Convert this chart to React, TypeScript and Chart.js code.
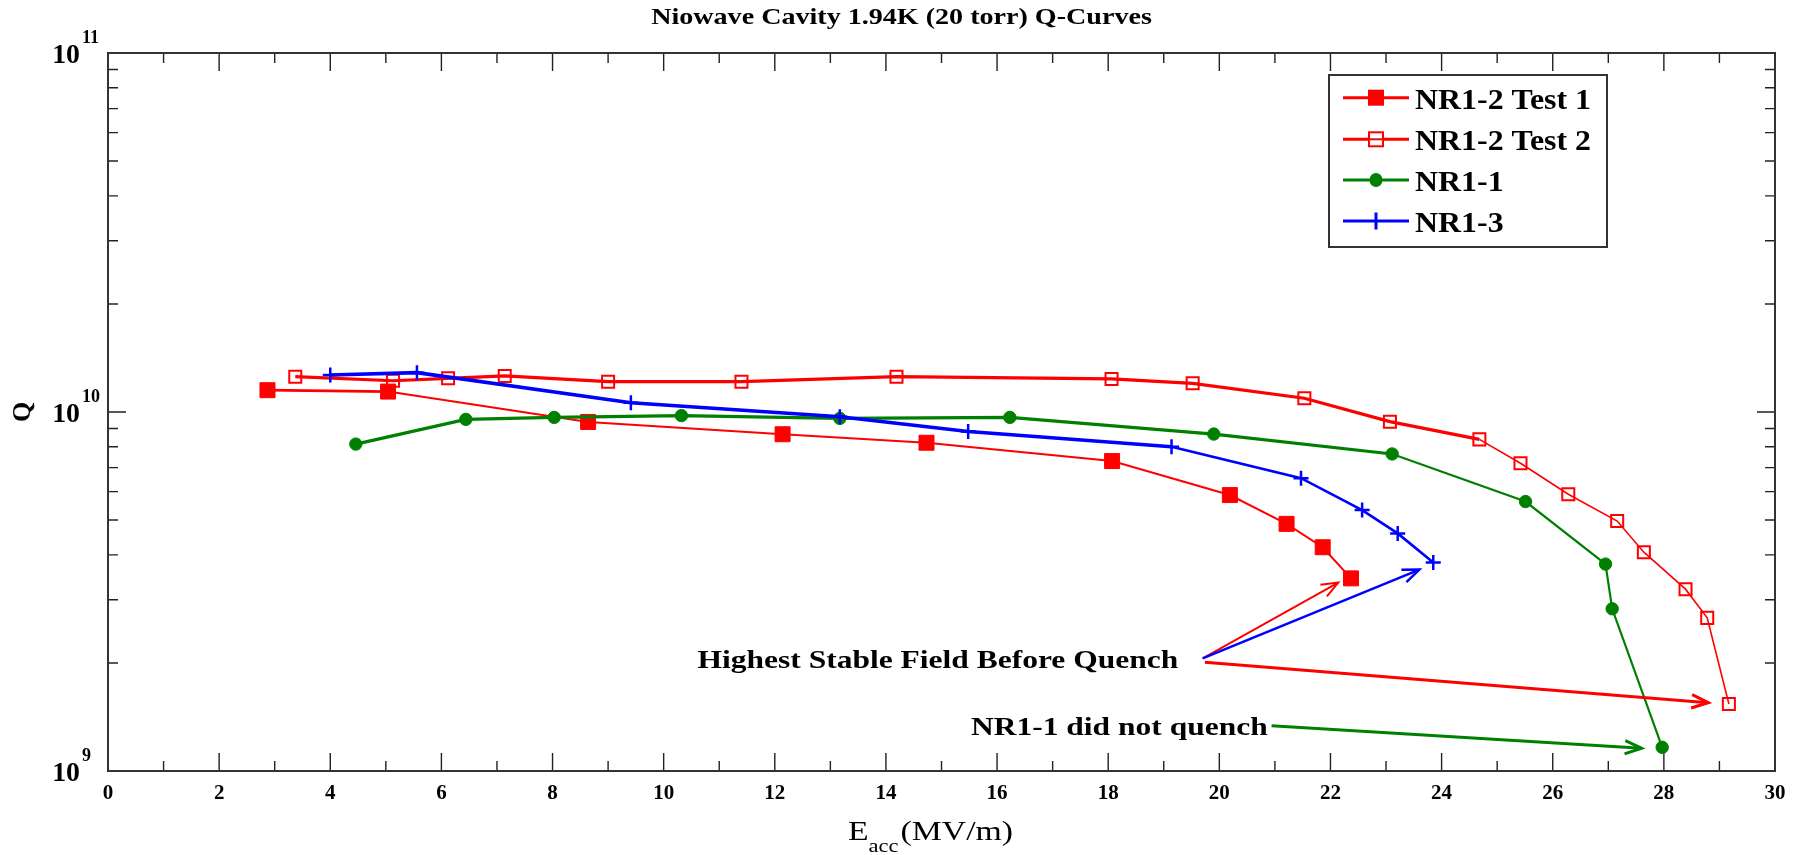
import React, { useEffect, useRef } from 'react';
import { Chart, registerables } from 'chart.js';

Chart.register(...registerables);

// ---------- data ----------
const test1E = [2.87, 5.04, 8.64, 12.14, 14.73, 18.07, 20.19, 21.21, 21.86, 22.37];
const test1Q = [1.15e10, 1.14e10, 9.38e9, 8.67e9, 8.21e9, 7.3e9, 5.87e9, 4.88e9, 4.2e9, 3.44e9];

const test2E = [3.37, 5.13, 6.12, 7.14, 9.0, 11.4, 14.19, 18.06, 19.52, 21.53, 23.07, 24.68, 25.42, 26.28, 27.16, 27.64, 28.39, 28.78, 29.17];
const test2Q = [1.254e10, 1.222e10, 1.241e10, 1.26e10, 1.215e10, 1.215e10, 1.254e10, 1.236e10, 1.202e10, 1.092e10, 9.4e9, 8.39e9, 7.2e9, 5.9e9, 4.97e9, 4.07e9, 3.21e9, 2.67e9, 1.537e9];

const nr11E = [4.46, 6.44, 8.03, 10.32, 13.17, 16.23, 19.9, 23.11, 25.51, 26.95, 27.07, 27.97];
const nr11Q = [8.14e9, 9.54e9, 9.66e9, 9.77e9, 9.6e9, 9.66e9, 8.68e9, 7.64e9, 5.63e9, 3.77e9, 2.83e9, 1.164e9];

const nr13E = [4.0, 5.56, 9.41, 13.17, 15.48, 19.14, 21.47, 22.57, 23.21, 23.85];
const nr13Q = [1.268e10, 1.287e10, 1.061e10, 9.7e9, 8.82e9, 8.0e9, 6.54e9, 5.33e9, 4.59e9, 3.81e9];

const seriesNames = ['NR1-2 Test 1', 'NR1-2 Test 2', 'NR1-1', 'NR1-3'];

const xTickValues = [0, 2, 4, 6, 8, 10, 12, 14, 16, 18, 20, 22, 24, 26, 28, 30];
const yDecades = [1e9, 1e10, 1e11];
const yDecadeExponents = ['9', '10', '11'];

// annotation arrows (data coordinates)
const arrowFromE = [19.7, 19.7, 19.74, 20.94];
const arrowFromQ = [2.06e9, 2.06e9, 2.01e9, 1.337e9];
const arrowToE = [22.14, 23.6, 28.8, 27.6];
const arrowToQ = [3.35e9, 3.64e9, 1.55e9, 1.157e9];
const arrowColors = ['#ff0000', '#0000ff', '#ff0000', '#008000'];
const arrowWidths = [2, 2.5, 3, 3];

const noteTexts = ['Highest Stable Field Before Quench', 'NR1-1 did not quench'];
const noteRightE = [19.26, 20.87];
const noteBaseQ = [1.936e9, 1.26e9];

const chartTitle = 'Niowave Cavity 1.94K (20 torr) Q-Curves';

const SERIF = '"Liberation Serif", "Times New Roman", serif';
const RED = '#ff0000';
const GREEN = '#008000';
const BLUE = '#0000ff';

function pts(xs: number[], ys: number[]) {
  return xs.map((x, i) => ({ x, y: ys[i] }));
}

function drawText(
  ctx: CanvasRenderingContext2D,
  text: string,
  x: number,
  y: number,
  font: string,
  align: 'left' | 'right' | 'center',
  sx: number,
  color = '#000'
) {
  ctx.save();
  ctx.font = font;
  ctx.fillStyle = color;
  ctx.textBaseline = 'alphabetic';
  ctx.textAlign = 'left';
  const w = ctx.measureText(text).width * sx;
  const left = align === 'left' ? x : align === 'right' ? x - w : x - w / 2;
  ctx.translate(left, y);
  ctx.scale(sx, 1);
  ctx.fillText(text, 0, 0);
  ctx.restore();
  return w;
}

function drawArrow(ctx: CanvasRenderingContext2D, x0: number, y0: number, x1: number, y1: number, color: string, w: number) {
  ctx.save();
  ctx.strokeStyle = color;
  ctx.lineWidth = w;
  ctx.lineJoin = 'miter';
  ctx.beginPath();
  ctx.moveTo(x0, y0);
  ctx.lineTo(x1, y1);
  ctx.stroke();
  const ang = Math.atan2(y1 - y0, x1 - x0);
  const L = 18;
  const h = 0.38;
  ctx.beginPath();
  ctx.moveTo(x1 - L * Math.cos(ang - h), y1 - L * Math.sin(ang - h));
  ctx.lineTo(x1, y1);
  ctx.lineTo(x1 - L * Math.cos(ang + h), y1 - L * Math.sin(ang + h));
  ctx.stroke();
  ctx.restore();
}

function drawMarker(ctx: CanvasRenderingContext2D, kind: string, x: number, y: number, color: string) {
  ctx.save();
  ctx.strokeStyle = color;
  ctx.fillStyle = color;
  if (kind === 'filledRect') {
    ctx.fillRect(x - 8, y - 8, 16, 16);
  } else if (kind === 'openRect') {
    ctx.lineWidth = 2;
    ctx.fillStyle = '#fff';
    ctx.fillRect(x - 7, y - 7, 14, 14);
    ctx.strokeRect(x - 7, y - 7, 14, 14);
    ctx.beginPath();
    ctx.moveTo(x - 7, y);
    ctx.lineTo(x + 7, y);
    ctx.stroke();
  } else if (kind === 'circle') {
    ctx.beginPath();
    ctx.ellipse(x, y, 6.5, 7, 0, 0, Math.PI * 2);
    ctx.fill();
  } else if (kind === 'cross') {
    ctx.lineWidth = 3;
    ctx.beginPath();
    ctx.moveTo(x, y - 8.5);
    ctx.lineTo(x, y + 8.5);
    ctx.stroke();
  }
  ctx.restore();
}

const legendKinds = ['filledRect', 'openRect', 'circle', 'cross'];

const decorPlugin = {
  id: 'decor',
  beforeDatasetsDraw(chart: any) {
    const { ctx, chartArea: a } = chart;
    const xs = chart.scales.x;
    const ys = chart.scales.y;
    ctx.save();
    ctx.strokeStyle = '#222';
    ctx.lineWidth = 1.4;
    ctx.beginPath();
    for (let v = 1; v < 30; v++) {
      const px = xs.getPixelForValue(v);
      const len = v % 2 === 0 ? 18 : 10;
      ctx.moveTo(px, a.bottom);
      ctx.lineTo(px, a.bottom - len);
      ctx.moveTo(px, a.top);
      ctx.lineTo(px, a.top + len);
    }
    for (const dec of [1e9, 1e10]) {
      for (let k = 1; k <= 9; k++) {
        const v = k * dec;
        if (v <= 1e9) continue;
        const py = ys.getPixelForValue(v);
        const len = k === 1 ? 18 : 10;
        ctx.moveTo(a.left, py);
        ctx.lineTo(a.left + len, py);
        ctx.moveTo(a.right, py);
        ctx.lineTo(a.right - len, py);
      }
    }
    ctx.stroke();
    ctx.lineWidth = 2;
    ctx.strokeStyle = '#333';
    ctx.strokeRect(a.left, a.top, a.right - a.left, a.bottom - a.top);
    ctx.restore();
  },
  afterDatasetsDraw(chart: any) {
    const { ctx, chartArea: a } = chart;
    const xs = chart.scales.x;
    const ys = chart.scales.y;

    // arrows
    for (let i = 0; i < arrowFromE.length; i++) {
      drawArrow(
        ctx,
        xs.getPixelForValue(arrowFromE[i]),
        ys.getPixelForValue(arrowFromQ[i]),
        xs.getPixelForValue(arrowToE[i]),
        ys.getPixelForValue(arrowToQ[i]),
        arrowColors[i],
        arrowWidths[i]
      );
    }
    // notes
    for (let i = 0; i < noteTexts.length; i++) {
      drawText(
        ctx,
        noteTexts[i],
        xs.getPixelForValue(noteRightE[i]),
        ys.getPixelForValue(noteBaseQ[i]),
        `bold 25px ${SERIF}`,
        'right',
        1.26
      );
    }

    // y decade labels 10^n
    for (let i = 0; i < yDecades.length; i++) {
      const py = ys.getPixelForValue(yDecades[i]);
      drawText(ctx, '10', a.left - 28, py + 10, `bold 27px ${SERIF}`, 'right', 1.03);
      drawText(ctx, yDecadeExponents[i], a.left - 26, py - 10, `bold 18px ${SERIF}`, 'left', 1.0);
    }

    // x axis title  E_acc (MV/m)
    {
      let x = 848;
      const base = 840;
      x += drawText(ctx, 'E', x, base, `27px ${SERIF}`, 'left', 1.25);
      x += drawText(ctx, 'acc', x, base + 12, `18px ${SERIF}`, 'left', 1.25);
      x += 2;
      drawText(ctx, '(MV/m)', x, base, `27px ${SERIF}`, 'left', 1.25);
    }

    // chart title
    drawText(ctx, chartTitle, (a.left + a.right) / 2 - 40, 24, `bold 24px ${SERIF}`, 'center', 1.17);

    // legend
    const lx = 1329, ly = 75, lw = 278, lh = 172;
    ctx.save();
    ctx.fillStyle = '#fff';
    ctx.fillRect(lx, ly, lw, lh);
    ctx.strokeStyle = '#333';
    ctx.lineWidth = 2;
    ctx.strokeRect(lx, ly, lw, lh);
    ctx.restore();
    const rowY = [97.7, 139.3, 180, 221];
    chart.data.datasets.forEach((ds: any, i: number) => {
      const y = rowY[i];
      ctx.save();
      ctx.strokeStyle = ds.borderColor;
      ctx.lineWidth = 3;
      ctx.beginPath();
      ctx.moveTo(1343, y);
      ctx.lineTo(1409, y);
      ctx.stroke();
      ctx.restore();
      drawMarker(ctx, legendKinds[i], 1376, y, ds.borderColor);
      drawText(ctx, ds.label, 1415, y + 11, `bold 29px ${SERIF}`, 'left', 1.1);
    });
  },
};

export default function App() {
  const ref = useRef<HTMLCanvasElement>(null);
  useEffect(() => {
    if (!ref.current) return;
    const chart = new Chart(ref.current, {
      type: 'line',
      data: {
        datasets: [
          {
            label: seriesNames[0],
            data: pts(test1E, test1Q),
            borderColor: RED,
            backgroundColor: RED,
            borderWidth: 2,
            pointStyle: 'rect',
            pointRadius: 10.6,
            pointBorderWidth: 1,
            pointBackgroundColor: RED,
            pointBorderColor: RED,
            order: 4,
            segment: { borderWidth: (c: any) => (c.p0.parsed.x < 5 ? 2.8 : 2) },
          },
          {
            label: seriesNames[1],
            data: pts(test2E, test2Q),
            borderColor: RED,
            backgroundColor: 'rgba(0,0,0,0)',
            borderWidth: 3,
            pointStyle: 'rect',
            pointRadius: 8.5,
            pointBorderWidth: 2,
            pointBackgroundColor: 'rgba(0,0,0,0)',
            pointBorderColor: RED,
            order: 3,
            segment: { borderWidth: (c: any) => (c.p0.parsed.x >= 24.6 ? 1.6 : 3.2) },
          },
          {
            label: seriesNames[2],
            data: pts(nr11E, nr11Q),
            borderColor: GREEN,
            backgroundColor: GREEN,
            borderWidth: 3,
            pointStyle: 'circle',
            pointRadius: 6.2,
            pointBorderWidth: 1,
            pointBackgroundColor: GREEN,
            pointBorderColor: GREEN,
            order: 2,
            segment: { borderWidth: (c: any) => (c.p0.parsed.x >= 23 ? 2.2 : 3.2) },
          },
          {
            label: seriesNames[3],
            data: pts(nr13E, nr13Q),
            borderColor: BLUE,
            backgroundColor: BLUE,
            borderWidth: 3,
            pointStyle: 'cross',
            pointRadius: 7.5,
            pointBorderWidth: 2.5,
            pointBorderColor: BLUE,
            order: 1,
            segment: { borderWidth: (c: any) => (c.p0.parsed.x >= 19 ? 2.6 : 3.6) },
          },
        ],
      },
      options: {
        animation: false,
        responsive: false,
        layout: { padding: { top: 53, right: 28, left: 0, bottom: 0 } },
        plugins: {
          legend: { display: false },
          title: { display: false },
          tooltip: { enabled: false },
        },
        elements: { line: { tension: 0 } },
        scales: {
          x: {
            type: 'linear',
            min: 0,
            max: 30,
            grid: { display: false, drawTicks: false },
            border: { display: false },
            afterBuildTicks: (s: any) => {
              s.ticks = xTickValues.map((v) => ({ value: v }));
            },
            ticks: {
              autoSkip: false,
              maxRotation: 0,
              padding: 10,
              color: '#000',
              font: { family: SERIF, size: 21, weight: 'bold' },
              callback: (v: any) => String(v),
            },
            afterFit: (s: any) => {
              s.height = 84;
            },
          },
          y: {
            type: 'logarithmic',
            min: 1e9,
            max: 1e11,
            grid: { display: false, drawTicks: false },
            border: { display: false },
            afterBuildTicks: (s: any) => {
              s.ticks = yDecades.map((v) => ({ value: v }));
            },
            ticks: { callback: () => '' },
            title: {
              display: true,
              text: 'Q',
              color: '#000',
              font: { family: SERIF, size: 26, weight: 'bold' },
              padding: { top: 8, bottom: 0 },
            },
            afterFit: (s: any) => {
              s.width = 108;
            },
          },
        },
      } as any,
      plugins: [decorPlugin],
    });
    return () => chart.destroy();
  }, []);

  return (
    <div style={{ position: 'fixed', left: 0, top: 0, width: 1803, height: 855, background: '#fff' }}>
      <canvas ref={ref} width={1803} height={855} style={{ display: 'block', width: 1803, height: 855 }} />
    </div>
  );
}
